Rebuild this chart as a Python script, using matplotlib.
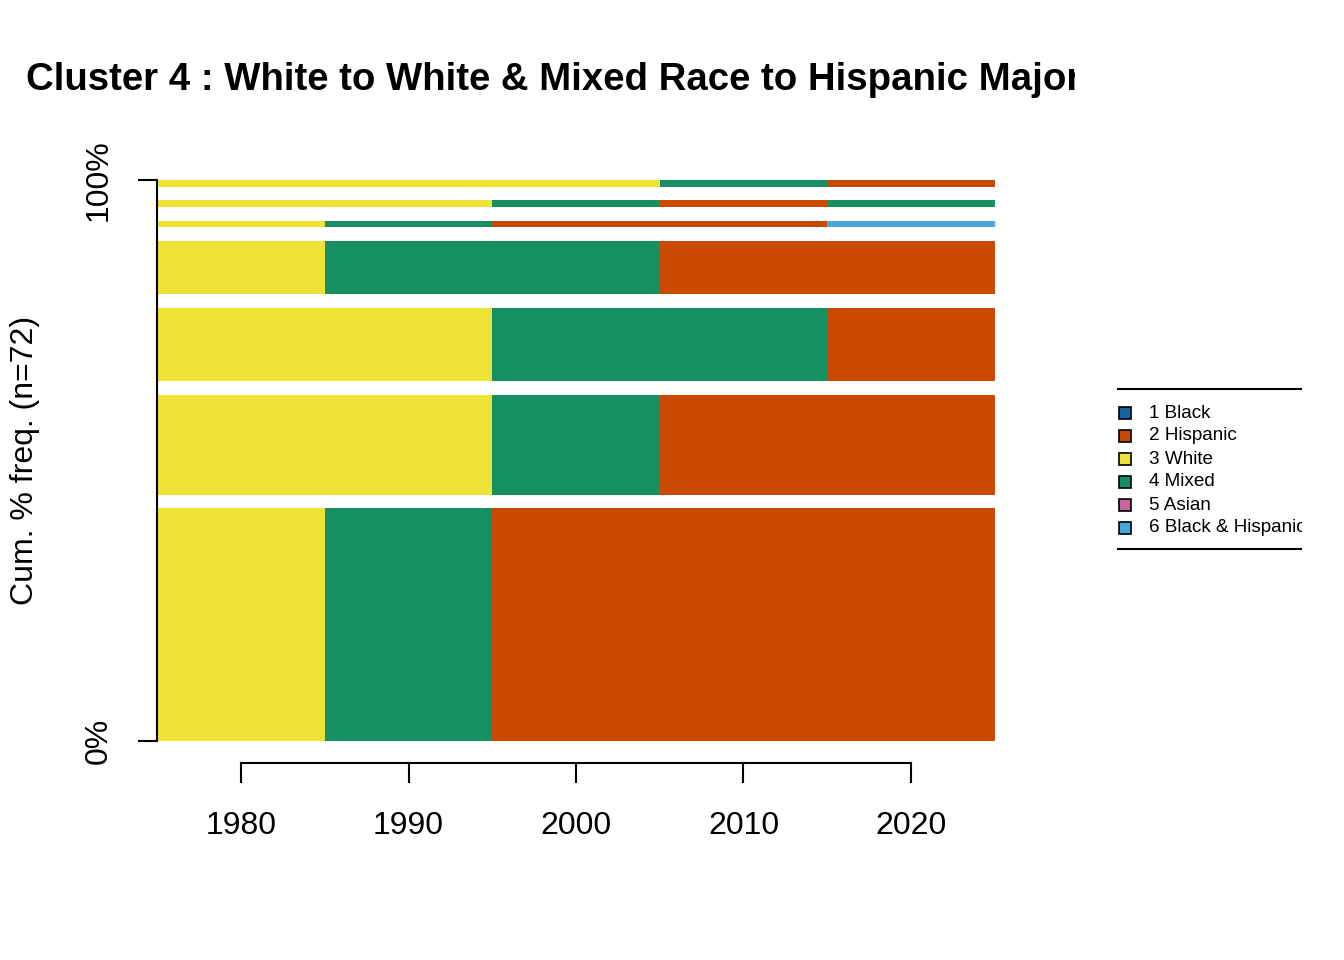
import matplotlib
matplotlib.use("Agg")
import matplotlib.pyplot as plt
from matplotlib.patches import Rectangle

plt.rcParams['font.family'] = ['Liberation Sans', 'DejaVu Sans']

# state alphabet and colours
states = ["1 Black", "2 Hispanic", "3 White", "4 Mixed", "5 Asian", "6 Black & Hispanic"]
colors = ["#1565A6", "#CB4A02", "#EDE235", "#169063", "#C5669A", "#4AA5E0"]
col = dict(zip(["B", "H", "W", "M", "A", "BH"], colors))

# periods (decade bins centred on tick years)
period_start = [1975, 1985, 1995, 2005, 2015]
period_width = 10
year_ticks = [1980, 1990, 2000, 2010, 2020]

# most frequent sequences, bottom to top, with counts
sequences = [
    ["W", "M", "H", "H", "H"],
    ["W", "W", "M", "H", "H"],
    ["W", "W", "M", "M", "H"],
    ["W", "M", "M", "H", "H"],
    ["W", "M", "H", "H", "BH"],
    ["W", "W", "M", "H", "M"],
    ["W", "W", "W", "M", "H"],
]
counts = [35, 15, 11, 8, 1, 1, 1]
n_total = 72

W, H = 1344, 960
fig = plt.figure(figsize=(W / 100, H / 100), dpi=100)

x0, x1, ytop, ybot = 157.4, 994.6, 180, 741
ax = fig.add_axes([x0 / W, (H - ybot) / H, (x1 - x0) / W, (ybot - ytop) / H])

gap = 0.2 * sum(counts) / len(counts)
bottom = 0.0
for seq, c in zip(sequences, counts):
    for st, s in zip(period_start, seq):
        ax.barh(bottom, period_width, left=st, height=c, align='edge',
                color=col[s], linewidth=0)
    bottom += c + gap
top = bottom - gap

ax.set_xlim(period_start[0], period_start[-1] + period_width)
ax.set_ylim(0, top)

for s in ["top", "right"]:
    ax.spines[s].set_visible(False)
ax.spines["left"].set_linewidth(1.5)
ax.spines["bottom"].set_linewidth(1.5)
ax.spines["bottom"].set_position(("outward", 15.8))
ax.spines["bottom"].set_bounds(year_ticks[0], year_ticks[-1])

ax.set_xticks(year_ticks)
ax.set_xticklabels([str(y) for y in year_ticks])
ax.set_yticks([0, top])
ax.set_yticklabels(["0%", "100%"], rotation=90, va='center')
ax.tick_params(axis='x', length=14.4, width=1.5, pad=20, labelsize=23)
ax.tick_params(axis='y', length=13.7, width=1.5, pad=18, labelsize=23)

fig.text(25 / W, 1 - 460.5 / H, f"Cum. % freq. (n={n_total})", rotation=90,
         ha='center', va='center', fontsize=23)

# title, clipped at the figure region edge like the original
tx = fig.add_axes([0, 1 - 110 / H, 1075 / W, 60 / H])
tx.axis('off')
tx.text(576 / 1075, 0.5, "Cluster 4 : White to White & Mixed Race to Hispanic Majority",
        transform=tx.transAxes, ha='center', va='center', fontsize=27.6,
        fontweight='bold', clip_on=True)

# legend panel (clipped at its right edge)
lx0, lx1, ly0, ly1 = 1117, 1302, 380, 560
lg = fig.add_axes([lx0 / W, 1 - ly1 / H, (lx1 - lx0) / W, (ly1 - ly0) / H])
lg.axis('off')
lg.set_xlim(lx0, lx1)
lg.set_ylim(ly1, ly0)
lg.plot([lx0, lx1], [389, 389], color='black', lw=1.5, clip_on=True)
lg.plot([lx0, lx1], [549, 549], color='black', lw=1.5, clip_on=True)
for i, (lab, c) in enumerate(zip(states, colors)):
    yc = 413 + 23 * i
    lg.add_patch(Rectangle((1119, yc - 6), 12, 12, facecolor=c,
                           edgecolor='black', lw=1.2, clip_on=True))
    lg.text(1149, yc, lab, ha='left', va='center', fontsize=13.6, clip_on=True)

fig.savefig("out.png", dpi=100)
